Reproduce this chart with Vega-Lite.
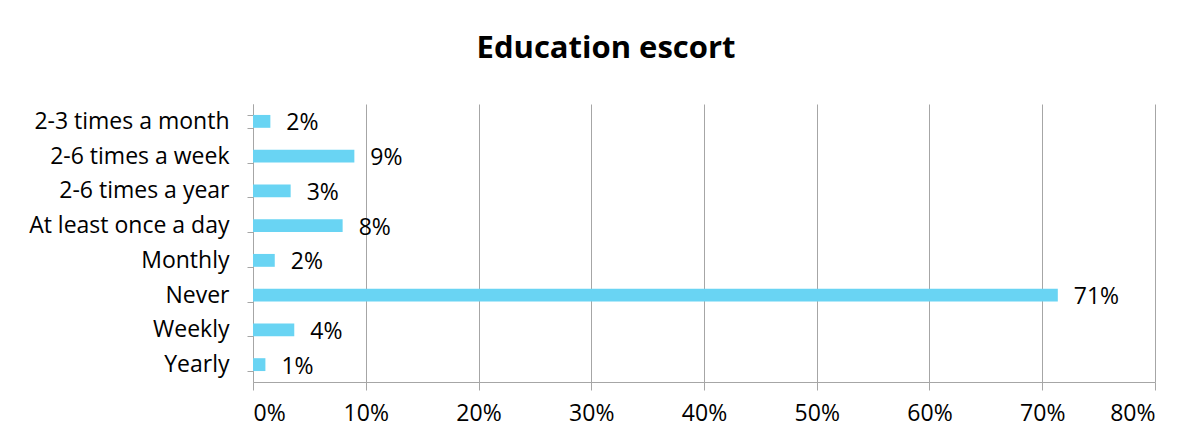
{
  "$schema": "https://vega.github.io/schema/vega-lite/v6.json",
  "width": 902,
  "height": 278,
  "autosize": {"type": "none"},
  "padding": {"left": 253, "top": 104, "right": 48, "bottom": 63},
  "background": "white",
  "title": {
    "text": "Education escort",
    "font": "Open Sans",
    "fontSize": 31,
    "fontWeight": "bold",
    "color": "#000000",
    "anchor": "middle",
    "frame": "group",
    "dx": -98,
    "offset": 4,
    "baseline": "alphabetic"
  },
  "config": {
    "view": {"stroke": null},
    "font": "Open Sans"
  },
  "data": {
    "values": [
      {"category": "2-3 times a month", "value": 0.0154, "label": "2%"},
      {"category": "2-6 times a week", "value": 0.0899, "label": "9%"},
      {"category": "2-6 times a year", "value": 0.0334, "label": "3%"},
      {"category": "At least once a day", "value": 0.0795, "label": "8%"},
      {"category": "Monthly", "value": 0.0193, "label": "2%"},
      {"category": "Never", "value": 0.7138, "label": "71%"},
      {"category": "Weekly", "value": 0.0366, "label": "4%"},
      {"category": "Yearly", "value": 0.011, "label": "1%"}
    ]
  },
  "encoding": {
    "y": {
      "field": "category",
      "type": "nominal",
      "sort": null,
      "scale": {"paddingInner": 0.63, "paddingOuter": 0.315},
      "axis": {
        "title": null,
        "labelFont": "Open Sans",
        "labelFontSize": 23,
        "labelLimit": 0,
        "labelColor": "#000000",
        "labelPadding": 18,
        "tickBand": "extent",
        "tickSize": 6,
        "tickColor": "#a6a6a6",
        "domainColor": "#a6a6a6",
        "domainWidth": 1,
        "grid": false
      }
    },
    "x": {
      "field": "value",
      "type": "quantitative",
      "scale": {"domain": [0, 0.8], "nice": false},
      "axis": {
        "title": null,
        "format": ".0%",
        "values": [0, 0.1, 0.2, 0.3, 0.4, 0.5, 0.6, 0.7, 0.8],
        "labelFont": "Open Sans",
        "labelFontSize": 23,
        "labelColor": "#000000",
        "labelPadding": 12,
        "tickSize": 8,
        "tickColor": "#a6a6a6",
        "domainColor": "#a6a6a6",
        "grid": true,
        "gridColor": "#a6a6a6",
        "gridWidth": 1
      }
    }
  },
  "layer": [
    {"mark": {"type": "bar", "color": "#69d4f3"}},
    {
      "mark": {"type": "text", "align": "left", "baseline": "middle", "dx": 16, "dy": 2, "font": "Open Sans", "fontSize": 23, "color": "#000000"},
      "encoding": {"text": {"field": "label"}}
    }
  ]
}
